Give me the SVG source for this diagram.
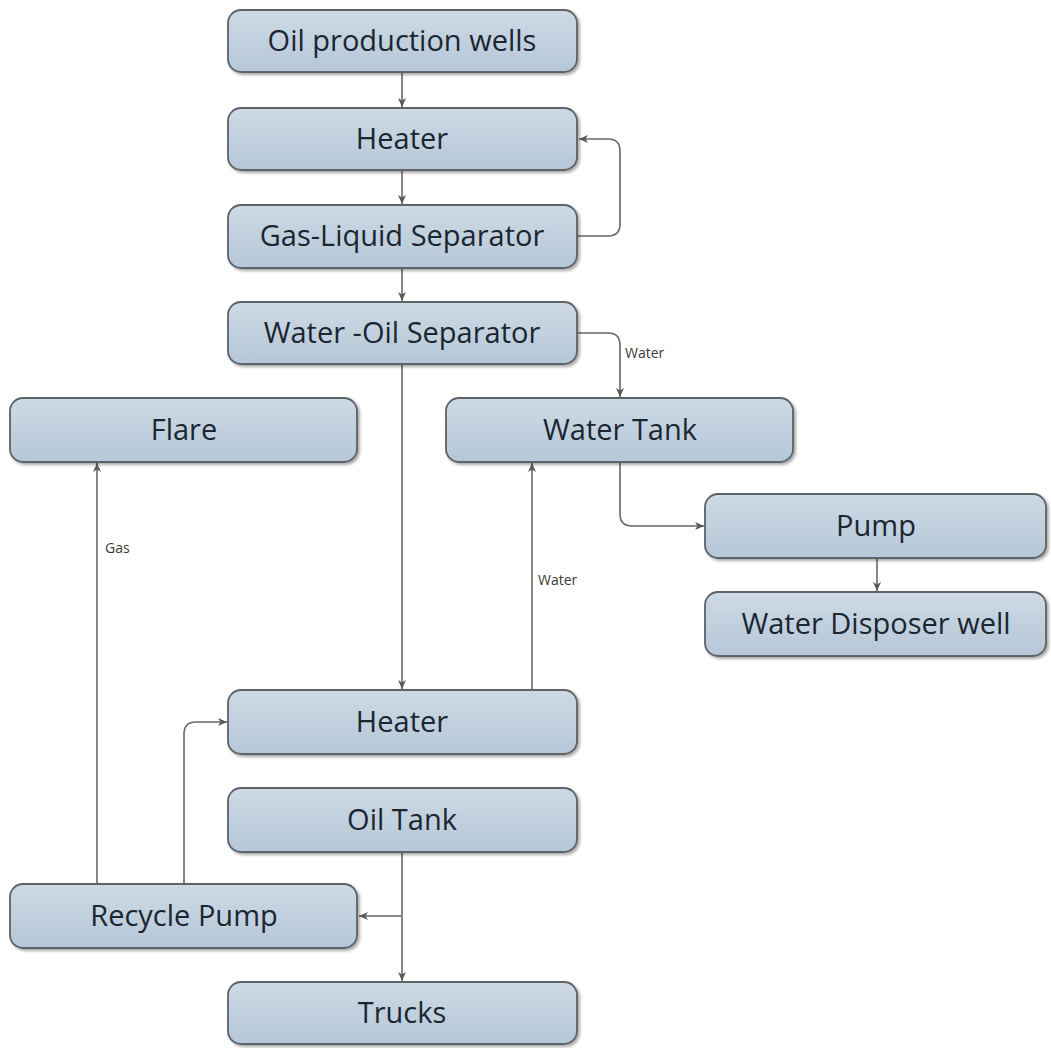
<svg xmlns="http://www.w3.org/2000/svg" width="1051" height="1048" viewBox="0 0 1051 1048">
  <style>
    .box { fill: url(#boxFill); stroke: #5e6266; stroke-width: 1.8; filter: url(#shadow); }
    .lbl { font-family: "Open Sans", "Liberation Sans", sans-serif; font-size: 29px; fill: #1c2630; text-anchor: middle; }
    .edge { fill: none; stroke: #6e6662; stroke-width: 1.6; marker-end: url(#arrow); }
    .note { font-family: "Open Sans", "Liberation Sans", sans-serif; font-size: 14px; fill: #3a3a3a; }
  </style>
  <defs>
    <linearGradient id="boxFill" x1="0" y1="0" x2="0" y2="1">
      <stop offset="0" stop-color="#cedae5"/>
      <stop offset="1" stop-color="#b5c7d8"/>
    </linearGradient>
    <filter id="shadow" x="-5%" y="-10%" width="112%" height="130%">
      <feGaussianBlur in="SourceAlpha" stdDeviation="1.5"/>
      <feOffset dx="1.5" dy="2" result="b"/>
      <feComponentTransfer><feFuncA type="linear" slope="0.35"/></feComponentTransfer>
      <feMerge><feMergeNode/><feMergeNode in="SourceGraphic"/></feMerge>
    </filter>
    <marker id="arrow" markerWidth="10" markerHeight="10" refX="9" refY="5" orient="auto" markerUnits="userSpaceOnUse">
      <path d="M0,1 L9,5 L0,9 L2.5,5 z" fill="#5e5854"/>
    </marker>
  </defs>

  <rect width="1051" height="1048" fill="#ffffff"/>

  <g id="connectors">
    <path class="edge" d="M402,72 V107"/>
    <path class="edge" d="M402,170 V204"/>
    <path class="edge" d="M577,236 H608 Q620,236 620,224 V151 Q620,139 608,139 H579"/>
    <path class="edge" d="M402,268 V301"/>
    <path class="edge" d="M577,333 H608 Q620,333 620,345 V397"/>
    <path class="edge" d="M402,364 V689"/>
    <path class="edge" d="M532,690 V463"/>
    <path class="edge" d="M620,462 V514 Q620,526 632,526 H704"/>
    <path class="edge" d="M877,558 V591"/>
    <path class="edge" d="M97,884 V463"/>
    <path class="edge" d="M184,884 V734 Q184,722 196,722 H227"/>
    <path class="edge" d="M402,852 V981"/>
    <path class="edge" d="M402,916 H359"/>
    <text class="note" x="625" y="358">Water</text>
    <text class="note" x="538" y="585">Water</text>
    <text class="note" x="105" y="553">Gas</text>
  </g>

  <g id="oil-wells">
    <rect class="box" x="228" y="10" width="349" height="62" rx="13"/>
    <text class="lbl" x="402" y="51">Oil production wells</text>
  </g>
  <g id="heater-1">
    <rect class="box" x="228" y="108" width="349" height="62" rx="13"/>
    <text class="lbl" x="402" y="149">Heater</text>
  </g>
  <g id="gas-liquid-separator">
    <rect class="box" x="228" y="205" width="349" height="63" rx="13"/>
    <text class="lbl" x="402" y="246">Gas-Liquid Separator</text>
  </g>
  <g id="water-oil-separator">
    <rect class="box" x="228" y="302" width="349" height="62" rx="13"/>
    <text class="lbl" x="402" y="343">Water -Oil Separator</text>
  </g>
  <g id="flare">
    <rect class="box" x="10" y="398" width="347" height="64" rx="13"/>
    <text class="lbl" x="184" y="440">Flare</text>
  </g>
  <g id="water-tank">
    <rect class="box" x="446" y="398" width="347" height="64" rx="13"/>
    <text class="lbl" x="620" y="440">Water Tank</text>
  </g>
  <g id="pump">
    <rect class="box" x="705" y="494" width="341" height="64" rx="13"/>
    <text class="lbl" x="876" y="536">Pump</text>
  </g>
  <g id="water-disposer-well">
    <rect class="box" x="705" y="592" width="341" height="64" rx="13"/>
    <text class="lbl" x="876" y="634">Water Disposer well</text>
  </g>
  <g id="heater-2">
    <rect class="box" x="228" y="690" width="349" height="64" rx="13"/>
    <text class="lbl" x="402" y="732">Heater</text>
  </g>
  <g id="oil-tank">
    <rect class="box" x="228" y="788" width="349" height="64" rx="13"/>
    <text class="lbl" x="402" y="830">Oil Tank</text>
  </g>
  <g id="recycle-pump">
    <rect class="box" x="10" y="884" width="347" height="64" rx="13"/>
    <text class="lbl" x="184" y="926">Recycle Pump</text>
  </g>
  <g id="trucks">
    <rect class="box" x="228" y="982" width="349" height="62" rx="13"/>
    <text class="lbl" x="402" y="1023">Trucks</text>
  </g>
</svg>
